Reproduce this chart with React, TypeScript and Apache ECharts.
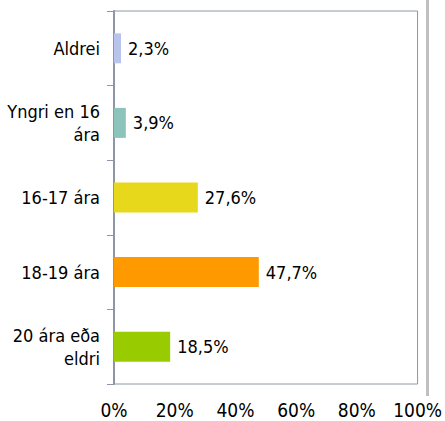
import React, { useEffect, useRef } from "react";
import * as echarts from "echarts";

const categories = ["Aldrei", "Yngri en 16\nára", "16-17 ára", "18-19 ára", "20 ára eða\neldri"];
const values = [2.3, 3.9, 27.6, 47.7, 18.5];
const barColors = ["#b8c4ec", "#8cc4bc", "#e8d81c", "#ff9900", "#99cc00"];
const xTicks = [0, 20, 40, 60, 80, 100];

const FONT = "'DejaVu Sans Condensed', 'Liberation Sans Narrow', sans-serif";

export default function App() {
  const ref = useRef<HTMLDivElement>(null);
  useEffect(() => {
    if (!ref.current) return;
    const chart = echarts.init(ref.current, undefined, { renderer: "svg" });
    chart.setOption({
      animation: false,
      backgroundColor: "#ffffff",
      grid: {
        left: 114,
        right: 25,
        top: 11,
        bottom: 37,
        show: true,
        borderColor: "#8c96a8",
        borderWidth: 1,
        backgroundColor: "transparent",
      },
      xAxis: {
        type: "value",
        min: xTicks[0],
        max: xTicks[xTicks.length - 1],
        interval: 20,
        axisLine: { show: false },
        axisTick: { show: false },
        splitLine: { show: false },
        axisLabel: {
          formatter: "{value}%",
          fontFamily: FONT,
          fontSize: 19,
          color: "#000",
          margin: 16,
        },
      },
      yAxis: {
        type: "category",
        inverse: true,
        data: categories,
        axisLine: { show: true, lineStyle: { color: "#8c96a8", width: 2 } },
        axisTick: { show: true, length: 7, lineStyle: { color: "#8c96a8" } },
        axisLabel: {
          fontFamily: FONT,
          fontSize: 18,
          color: "#000",
          margin: 14,
          lineHeight: 23,
          align: "right",
        },
      },
      series: [
        {
          type: "bar",
          barWidth: 30,
          data: values.map((v, i) => ({ value: v, itemStyle: { color: barColors[i] } })),
          label: {
            show: true,
            position: "right",
            distance: 7,
            fontFamily: FONT,
            fontSize: 18,
            color: "#000",
            formatter: (p: any) => String(p.value).replace(".", ",") + "%",
          },
        },
      ],
      graphic: [
        {
          type: "rect",
          shape: { x: 426, y: 0, width: 3, height: 396 },
          style: { fill: "#c0c0c0" },
        },
      ],
    });
    return () => chart.dispose();
  }, []);
  return <div ref={ref} style={{ position: "fixed", left: 0, top: 0, width: 445, height: 421 }} />;
}
